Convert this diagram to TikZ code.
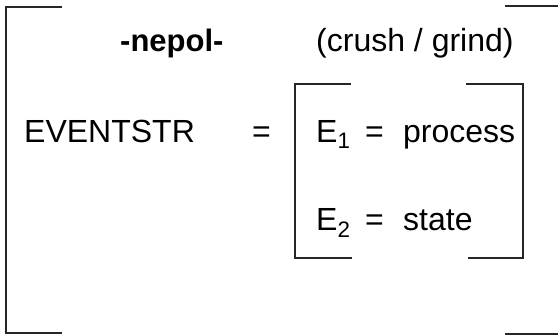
\documentclass[tikz,border=0pt]{standalone}
\usepackage{fontspec}
\setmainfont{Liberation Sans}
\begin{document}
\begin{tikzpicture}[x=1pt,y=-1pt,
  txt/.style={anchor=base west,inner sep=0pt,font=\fontsize{32}{38}\selectfont},
  btxt/.style={anchor=base west,inner sep=0pt,font=\fontsize{31}{38}\selectfont\bfseries},
  outerbr/.style={line width=2pt,draw=black!85},
  innerbr/.style={line width=1.5pt,draw=black!85}]
\useasboundingbox (0,0) rectangle (558,335);
% outer bracket
\draw[outerbr] (62,7) -- (6,7) -- (6,333) -- (62,333);
\draw[outerbr] (505,6) -- (558,6);
\draw[outerbr] (505,334) -- (558,334);
% inner bracket
\draw[innerbr] (351,84) -- (295,84) -- (295,258) -- (352,258);
\draw[innerbr] (466,84) -- (523,84) -- (523,258) -- (468,258);
% texts
\node[btxt] (title) at (120,51) {-nepol-};
\node[txt] (gloss) at (316,51) {(crush / grind)};
\node[txt] (ev) at (24,142) {EVENTSTR};
\node[txt] (eq) at (252,142) {=};
\node[txt] (e1) at (316,142) {E\textsubscript{1}};
\node[txt] (eq1) at (365,142) {=};
\node[txt] (proc) at (403,142) {process};
\node[txt] (e2) at (316,230) {E\textsubscript{2}};
\node[txt] (eq2) at (365,230) {=};
\node[txt] (state) at (403,230) {state};
\end{tikzpicture}
\end{document}
